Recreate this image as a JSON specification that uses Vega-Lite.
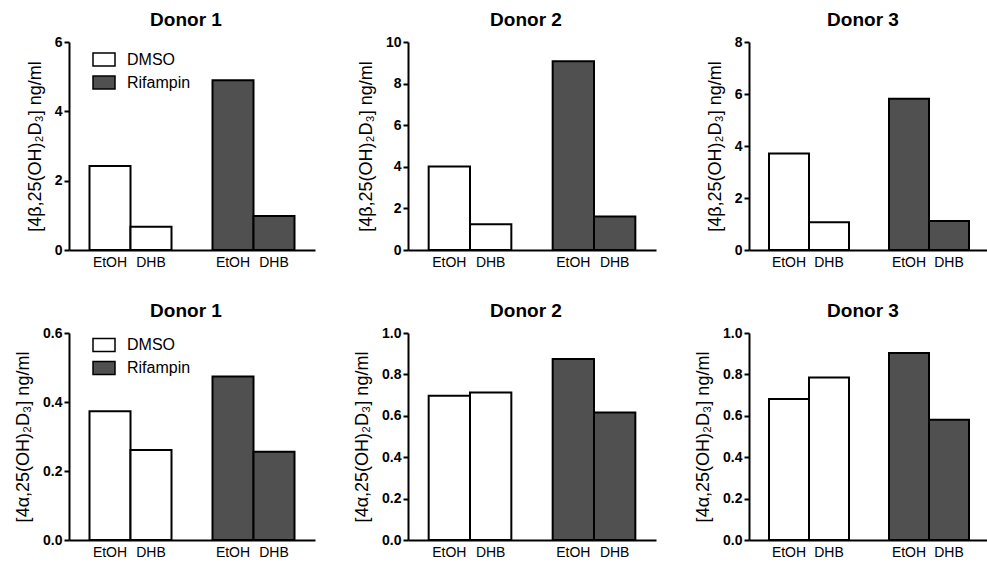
{
  "$schema": "https://vega.github.io/schema/vega-lite/v6.json",
  "padding": {"left": 14, "top": 11, "right": 0, "bottom": 0},
  "background": "white",
  "data": {"values": [
    {"assay": "beta", "donor": 1, "treatment": "DMSO", "condition": "EtOH", "slot": "DMSO|EtOH", "value": 2.42},
    {"assay": "beta", "donor": 1, "treatment": "DMSO", "condition": "DHB", "slot": "DMSO|DHB", "value": 0.67},
    {"assay": "beta", "donor": 1, "treatment": "Rifampin", "condition": "EtOH", "slot": "Rifampin|EtOH", "value": 4.90},
    {"assay": "beta", "donor": 1, "treatment": "Rifampin", "condition": "DHB", "slot": "Rifampin|DHB", "value": 0.98},
    {"assay": "beta", "donor": 2, "treatment": "DMSO", "condition": "EtOH", "slot": "DMSO|EtOH", "value": 4.02},
    {"assay": "beta", "donor": 2, "treatment": "DMSO", "condition": "DHB", "slot": "DMSO|DHB", "value": 1.24},
    {"assay": "beta", "donor": 2, "treatment": "Rifampin", "condition": "EtOH", "slot": "Rifampin|EtOH", "value": 9.07},
    {"assay": "beta", "donor": 2, "treatment": "Rifampin", "condition": "DHB", "slot": "Rifampin|DHB", "value": 1.61},
    {"assay": "beta", "donor": 3, "treatment": "DMSO", "condition": "EtOH", "slot": "DMSO|EtOH", "value": 3.71},
    {"assay": "beta", "donor": 3, "treatment": "DMSO", "condition": "DHB", "slot": "DMSO|DHB", "value": 1.07},
    {"assay": "beta", "donor": 3, "treatment": "Rifampin", "condition": "EtOH", "slot": "Rifampin|EtOH", "value": 5.82},
    {"assay": "beta", "donor": 3, "treatment": "Rifampin", "condition": "DHB", "slot": "Rifampin|DHB", "value": 1.12},
    {"assay": "alpha", "donor": 1, "treatment": "DMSO", "condition": "EtOH", "slot": "DMSO|EtOH", "value": 0.373},
    {"assay": "alpha", "donor": 1, "treatment": "DMSO", "condition": "DHB", "slot": "DMSO|DHB", "value": 0.261},
    {"assay": "alpha", "donor": 1, "treatment": "Rifampin", "condition": "EtOH", "slot": "Rifampin|EtOH", "value": 0.474},
    {"assay": "alpha", "donor": 1, "treatment": "Rifampin", "condition": "DHB", "slot": "Rifampin|DHB", "value": 0.256},
    {"assay": "alpha", "donor": 2, "treatment": "DMSO", "condition": "EtOH", "slot": "DMSO|EtOH", "value": 0.697},
    {"assay": "alpha", "donor": 2, "treatment": "DMSO", "condition": "DHB", "slot": "DMSO|DHB", "value": 0.713},
    {"assay": "alpha", "donor": 2, "treatment": "Rifampin", "condition": "EtOH", "slot": "Rifampin|EtOH", "value": 0.874},
    {"assay": "alpha", "donor": 2, "treatment": "Rifampin", "condition": "DHB", "slot": "Rifampin|DHB", "value": 0.616},
    {"assay": "alpha", "donor": 3, "treatment": "DMSO", "condition": "EtOH", "slot": "DMSO|EtOH", "value": 0.681},
    {"assay": "alpha", "donor": 3, "treatment": "DMSO", "condition": "DHB", "slot": "DMSO|DHB", "value": 0.785},
    {"assay": "alpha", "donor": 3, "treatment": "Rifampin", "condition": "EtOH", "slot": "Rifampin|EtOH", "value": 0.903},
    {"assay": "alpha", "donor": 3, "treatment": "Rifampin", "condition": "DHB", "slot": "Rifampin|DHB", "value": 0.581}
  ]},
  "columns": 3,
  "spacing": {"row": 33, "column": 38},
  "resolve": {"scale": {"color": "independent", "y": "independent", "x": "independent"}, "legend": {"color": "independent"}},
  "concat": [
    {
      "width": 246, "height": 208,
      "title": "Donor 1",
      "transform": [{"filter": "datum.assay == 'beta' && datum.donor == 1"}],
      "mark": {"type": "bar", "stroke": "black", "strokeWidth": 2, "width": {"band": 1}},
      "encoding": {
        "x": {"field": "slot", "type": "nominal", "scale": {"domain": ["DMSO|EtOH", "DMSO|DHB", "gap", "Rifampin|EtOH", "Rifampin|DHB"], "paddingInner": 0, "paddingOuter": 0.5}, "axis": {"labelExpr": "indexof(datum.value, '|') >= 0 ? split(datum.value, '|')[1] : ''"}},
        "y": {"field": "value", "type": "quantitative", "scale": {"domain": [0, 6], "nice": false}, "axis": {"values": [0, 2, 4, 6], "format": "d", "title": "[4β,25(OH)₂D₃] ng/ml"}},
        "color": {"field": "treatment", "type": "nominal", "scale": {"domain": ["DMSO", "Rifampin"], "range": ["white", "#505050"]}, "legend": {"title": null, "orient": "none", "legendX": 23, "legendY": 5.5}}
      }
    },
    {
      "width": 248, "height": 208,
      "title": "Donor 2",
      "transform": [{"filter": "datum.assay == 'beta' && datum.donor == 2"}],
      "mark": {"type": "bar", "stroke": "black", "strokeWidth": 2, "width": {"band": 1}},
      "encoding": {
        "x": {"field": "slot", "type": "nominal", "scale": {"domain": ["DMSO|EtOH", "DMSO|DHB", "gap", "Rifampin|EtOH", "Rifampin|DHB"], "paddingInner": 0, "paddingOuter": 0.5}, "axis": {"labelExpr": "indexof(datum.value, '|') >= 0 ? split(datum.value, '|')[1] : ''"}},
        "y": {"field": "value", "type": "quantitative", "scale": {"domain": [0, 10], "nice": false}, "axis": {"values": [0, 2, 4, 6, 8, 10], "format": "d", "title": "[4β,25(OH)₂D₃] ng/ml"}},
        "color": {"field": "treatment", "type": "nominal", "scale": {"domain": ["DMSO", "Rifampin"], "range": ["white", "#505050"]}, "legend": null}
      }
    },
    {
      "width": 240, "height": 208,
      "title": "Donor 3",
      "transform": [{"filter": "datum.assay == 'beta' && datum.donor == 3"}],
      "mark": {"type": "bar", "stroke": "black", "strokeWidth": 2, "width": {"band": 1}},
      "encoding": {
        "x": {"field": "slot", "type": "nominal", "scale": {"domain": ["DMSO|EtOH", "DMSO|DHB", "gap", "Rifampin|EtOH", "Rifampin|DHB"], "paddingInner": 0, "paddingOuter": 0.5}, "axis": {"labelExpr": "indexof(datum.value, '|') >= 0 ? split(datum.value, '|')[1] : ''"}},
        "y": {"field": "value", "type": "quantitative", "scale": {"domain": [0, 8], "nice": false}, "axis": {"values": [0, 2, 4, 6, 8], "format": "d", "title": "[4β,25(OH)₂D₃] ng/ml"}},
        "color": {"field": "treatment", "type": "nominal", "scale": {"domain": ["DMSO", "Rifampin"], "range": ["white", "#505050"]}, "legend": null}
      }
    },
    {
      "width": 246, "height": 207,
      "title": "Donor 1",
      "transform": [{"filter": "datum.assay == 'alpha' && datum.donor == 1"}],
      "mark": {"type": "bar", "stroke": "black", "strokeWidth": 2, "width": {"band": 1}},
      "encoding": {
        "x": {"field": "slot", "type": "nominal", "scale": {"domain": ["DMSO|EtOH", "DMSO|DHB", "gap", "Rifampin|EtOH", "Rifampin|DHB"], "paddingInner": 0, "paddingOuter": 0.5}, "axis": {"labelExpr": "indexof(datum.value, '|') >= 0 ? split(datum.value, '|')[1] : ''"}},
        "y": {"field": "value", "type": "quantitative", "scale": {"domain": [0, 0.6], "nice": false}, "axis": {"values": [0, 0.2, 0.4, 0.6], "format": ".1f", "title": "[4α,25(OH)₂D₃] ng/ml"}},
        "color": {"field": "treatment", "type": "nominal", "scale": {"domain": ["DMSO", "Rifampin"], "range": ["white", "#505050"]}, "legend": {"title": null, "orient": "none", "legendX": 23, "legendY": 0}}
      }
    },
    {
      "width": 248, "height": 207,
      "title": "Donor 2",
      "transform": [{"filter": "datum.assay == 'alpha' && datum.donor == 2"}],
      "mark": {"type": "bar", "stroke": "black", "strokeWidth": 2, "width": {"band": 1}},
      "encoding": {
        "x": {"field": "slot", "type": "nominal", "scale": {"domain": ["DMSO|EtOH", "DMSO|DHB", "gap", "Rifampin|EtOH", "Rifampin|DHB"], "paddingInner": 0, "paddingOuter": 0.5}, "axis": {"labelExpr": "indexof(datum.value, '|') >= 0 ? split(datum.value, '|')[1] : ''"}},
        "y": {"field": "value", "type": "quantitative", "scale": {"domain": [0, 1], "nice": false}, "axis": {"values": [0, 0.2, 0.4, 0.6, 0.8, 1.0], "format": ".1f", "title": "[4α,25(OH)₂D₃] ng/ml"}},
        "color": {"field": "treatment", "type": "nominal", "scale": {"domain": ["DMSO", "Rifampin"], "range": ["white", "#505050"]}, "legend": null}
      }
    },
    {
      "width": 240, "height": 207,
      "title": "Donor 3",
      "transform": [{"filter": "datum.assay == 'alpha' && datum.donor == 3"}],
      "mark": {"type": "bar", "stroke": "black", "strokeWidth": 2, "width": {"band": 1}},
      "encoding": {
        "x": {"field": "slot", "type": "nominal", "scale": {"domain": ["DMSO|EtOH", "DMSO|DHB", "gap", "Rifampin|EtOH", "Rifampin|DHB"], "paddingInner": 0, "paddingOuter": 0.5}, "axis": {"labelExpr": "indexof(datum.value, '|') >= 0 ? split(datum.value, '|')[1] : ''"}},
        "y": {"field": "value", "type": "quantitative", "scale": {"domain": [0, 1], "nice": false}, "axis": {"values": [0, 0.2, 0.4, 0.6, 0.8, 1.0], "format": ".1f", "title": "[4α,25(OH)₂D₃] ng/ml"}},
        "color": {"field": "treatment", "type": "nominal", "scale": {"domain": ["DMSO", "Rifampin"], "range": ["white", "#505050"]}, "legend": null}
      }
    }
  ],
  "config": {
    "font": "Liberation Sans",
    "view": {"stroke": null},
    "axis": {"domainColor": "black", "domainWidth": 2, "tickColor": "black", "tickWidth": 2, "labelColor": "black", "titleColor": "black", "grid": false},
    "axisY": {"labelFontWeight": "bold", "labelFontSize": 14, "tickSize": 5, "labelPadding": 2, "titleFontSize": 18, "titleFontWeight": "normal", "titlePadding": 10},
    "axisX": {"ticks": false, "labelFontSize": 14, "labelPadding": 5, "labelAngle": 0, "title": null},
    "title": {"fontSize": 19, "fontWeight": "bold", "color": "black", "offset": 5, "dx": -6},
    "legend": {"labelFontSize": 16, "labelColor": "black", "symbolType": "M-1,-0.59H1V0.59H-1Z", "symbolSize": 484, "symbolStrokeColor": "black", "symbolStrokeWidth": 1.5, "symbolOpacity": 1, "rowPadding": 1, "labelOffset": 11, "padding": 0}
  }
}
